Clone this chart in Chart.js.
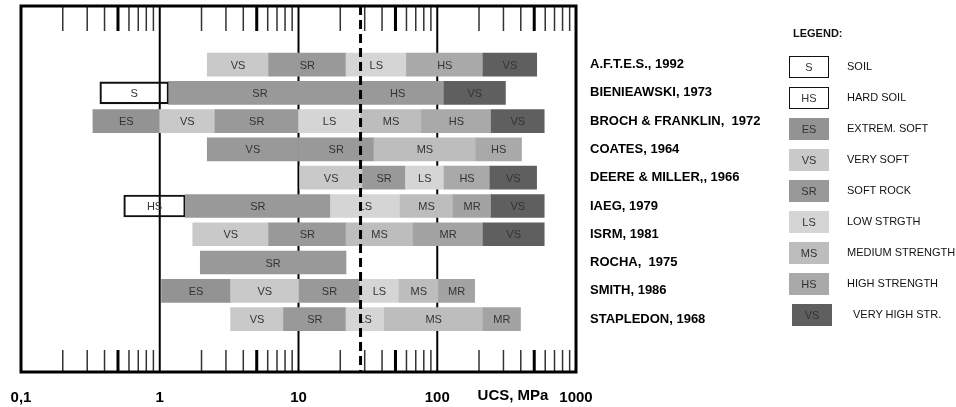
<!DOCTYPE html>
<html>
<head>
<meta charset="utf-8">
<script src="https://cdn.jsdelivr.net/npm/chart.js@4.4.0/dist/chart.umd.min.js"></script>
<style>
  body { margin: 0; background: #fff; }
  #wrap { position: relative; width: 956px; height: 407px; }
  #legend { position: absolute; left: 0; top: 0; font-family: "Liberation Sans", Arial, sans-serif; }
  .lg-title { position: absolute; left: 793px; top: 27px; font-size: 11px; font-weight: bold; color: #111; }
  .lg-box { position: absolute; width: 40px; height: 22px; box-sizing: border-box; font-size: 11px; color: #333;
            display: flex; align-items: center; justify-content: center; }
  .lg-text { position: absolute; font-size: 11px; color: #111; white-space: nowrap; }
</style>
</head>
<body>
<div id="wrap">
  <canvas id="ucsChart" width="956" height="407"></canvas>
  <div id="legend"></div>
</div>
<script>
// classifications (rows, top to bottom)
const sources = ["A.F.T.E.S., 1992", "BIENIEAWSKI, 1973", "BROCH & FRANKLIN,  1972", "COATES, 1964",
  "DEERE & MILLER,, 1966", "IAEG, 1979", "ISRM, 1981", "ROCHA,  1975", "SMITH, 1986", "STAPLEDON, 1968"];

// class limits in MPa for each row
const limits = [
  [2.2, 6.1, 22, 60, 214, 521],
  [0.37, 1.16, 24, 112, 310],
  [0.33, 1.0, 2.5, 10, 28, 77, 245, 590],
  [2.2, 10, 35, 190, 405],
  [10.2, 29, 59, 112, 240, 520],
  [0.55, 1.53, 17, 54, 130, 245, 590],
  [1.73, 6.1, 22, 67, 214, 590],
  [1.96, 22],
  [1.03, 3.24, 10.1, 27.7, 53, 102, 186],
  [3.24, 7.8, 22, 41.5, 214, 398]
];

// text written in each class
const classText = [
  ["VS", "SR", "LS", "HS", "VS"],
  ["S", "SR", "HS", "VS"],
  ["ES", "VS", "SR", "LS", "MS", "HS", "VS"],
  ["VS", "SR", "MS", "HS"],
  ["VS", "SR", "LS", "HS", "VS"],
  ["HS", "SR", "LS", "MS", "MR", "VS"],
  ["VS", "SR", "MS", "MR", "VS"],
  ["SR"],
  ["ES", "VS", "SR", "LS", "MS", "MR"],
  ["VS", "SR", "LS", "MS", "MR"]
];

// shade used by each class
const classShade = [
  ["VS", "SR", "LS", "HS", "VHS"],
  ["S", "SR", "SR", "VHS"],
  ["ES", "VS", "SR", "LS", "MS", "HS", "VHS"],
  ["SR", "SR", "MS", "HS"],
  ["VS", "SR", "LS", "HS", "VHS"],
  ["HSOIL", "SR", "LS", "MS", "MR", "VHS"],
  ["VS", "SR", "MS", "MR", "VHS"],
  ["SR"],
  ["ES", "VS", "SR", "LS", "MS", "MR"],
  ["VS", "SR", "LS", "MS", "MR"]
];

const xTicks = [0.1, 1, 10, 100, 1000];
const xTickText = ["0,1", "1", "10", "100", "1000"];
const decades = [0.1, 1, 10, 100];
const minorSteps = [2, 3, 4, 5, 6, 7, 8, 9];
const mainLines = [1, 10, 100];
const dashValue = 28;

const legendCodes = ["S", "HS", "ES", "VS", "SR", "LS", "MS", "HS", "VS"];
const legendShades = ["S", "HSOIL", "ES", "VS", "SR", "LS", "MS", "HS", "VHS"];
const legendText = ["SOIL", "HARD SOIL", "EXTREM. SOFT", "VERY SOFT", "SOFT ROCK", "LOW  STRGTH",
  "MEDIUM STRENGTH", "HIGH STRENGTH", "VERY HIGH STR."];

const shades = {
  ES: "#939393", VS: "#c9c9c9", SR: "#999999", LS: "#d5d5d5", MS: "#bdbdbd",
  HS: "#a9a9a9", VHS: "#5f5f5f", MR: "#a3a3a3"
};
const FONT = '"Liberation Sans", Arial, sans-serif';

// build bar segments
let filled = [], boxes = [];
limits.forEach((lim, row) => {
  for (let i = 0; i < lim.length - 1; i++) {
    let seg = { x: [lim[i], lim[i + 1]], y: row, text: classText[row][i], shade: classShade[row][i] };
    if (seg.shade == "S" || seg.shade == "HSOIL") boxes.push(seg);
    else filled.push(seg);
  }
});

const ucsPlugin = {
  id: "ucs",
  beforeDatasetsDraw(chart) {
    const { ctx, chartArea: a, scales: { x } } = chart;
    ctx.save();
    decades.forEach((d) => {
      minorSteps.forEach((m) => {
        let px = x.getPixelForValue(d * m);
        ctx.lineWidth = m == 5 ? 3 : 1.5;
        ctx.strokeStyle = m == 5 ? "#000" : "#333";
        ctx.beginPath();
        ctx.moveTo(px, a.top);
        ctx.lineTo(px, a.top + 25);
        ctx.moveTo(px, a.bottom - 22);
        ctx.lineTo(px, a.bottom);
        ctx.stroke();
      });
    });
    ctx.lineWidth = 2;
    ctx.strokeStyle = "#000";
    mainLines.forEach((v) => {
      let px = x.getPixelForValue(v);
      ctx.beginPath();
      ctx.moveTo(px, a.top);
      ctx.lineTo(px, a.bottom);
      ctx.stroke();
    });
    ctx.restore();
  },
  afterDatasetsDraw(chart) {
    const { ctx, chartArea: a, scales: { x } } = chart;
    ctx.save();
    // class names inside the bars
    ctx.font = "11px " + FONT;
    ctx.fillStyle = "#333";
    ctx.textAlign = "center";
    ctx.textBaseline = "middle";
    chart.data.datasets.forEach((ds, di) => {
      chart.getDatasetMeta(di).data.forEach((bar, i) => {
        ctx.fillText(ds.data[i].text, (bar.x + bar.base) / 2, bar.y + 1);
      });
    });
    // dashed line
    let px = x.getPixelForValue(dashValue);
    ctx.strokeStyle = "#000";
    ctx.lineWidth = 3;
    ctx.setLineDash([9, 5]);
    ctx.beginPath();
    ctx.moveTo(px, a.top);
    ctx.lineTo(px, a.bottom);
    ctx.stroke();
    ctx.setLineDash([]);
    // frame
    ctx.strokeRect(a.left, a.top, a.right - a.left, a.bottom - a.top);
    // axis title
    ctx.font = "bold 15px " + FONT;
    ctx.fillStyle = "#000";
    ctx.fillText("UCS, MPa", a.right - 63, a.bottom + 24);
    ctx.restore();
  }
};

new Chart(document.getElementById("ucsChart"), {
  type: "bar",
  data: {
    datasets: [
      {
        data: filled,
        backgroundColor: filled.map((s) => shades[s.shade]),
        borderWidth: 0,
        barThickness: 23,
        grouped: false
      },
      {
        data: boxes,
        backgroundColor: "rgba(255,255,255,0)",
        borderColor: "#111",
        borderWidth: 1.5,
        borderSkipped: false,
        barThickness: 22,
        grouped: false
      }
    ]
  },
  options: {
    indexAxis: "y",
    responsive: false,
    animation: false,
    events: [],
    layout: { padding: { left: 21, top: 6, right: 0, bottom: 0 } },
    plugins: { legend: { display: false }, tooltip: { enabled: false } },
    scales: {
      x: {
        type: "logarithmic",
        min: 0.1,
        max: 1000,
        grid: { display: false },
        border: { display: false },
        afterBuildTicks: (s) => { s.ticks = xTicks.map((v) => ({ value: v })); },
        afterFit: (s) => { s.height = 35; s.paddingLeft = 0; s.paddingRight = 0; },
        ticks: {
          autoSkip: false,
          maxRotation: 0,
          padding: 9,
          color: "#000",
          font: { family: FONT, size: 15, weight: "bold" },
          callback: (v, i) => xTickText[i]
        }
      },
      y: {
        type: "linear",
        position: "right",
        reverse: true,
        offset: false,
        bounds: "data",
        min: -2.07,
        max: 10.87,
        grid: { display: false, drawTicks: false, offset: false },
        border: { display: false },
        afterBuildTicks: (s) => { s.ticks = sources.map((n, i) => ({ value: i })); },
        afterFit: (s) => { s.width = 380; s.paddingTop = 0; s.paddingBottom = 0; },
        ticks: {
          padding: 14,
          color: "#000",
          font: { family: FONT, size: 13, weight: "bold" },
          callback: (v) => sources[v]
        }
      }
    }
  },
  plugins: [ucsPlugin]
});

// legend
function RemplirLegende() {
  let leg = document.getElementById("legend");
  let html = '<div class="lg-title">LEGEND:</div>';
  legendCodes.forEach((code, i) => {
    let top = 56 + i * 31;
    let sh = legendShades[i];
    let left = sh == "VHS" ? 792 : 789;
    let style = sh == "S" || sh == "HSOIL"
      ? "background:#fff;border:1.5px solid #111;"
      : "background:" + shades[sh] + ";";
    html += '<div class="lg-box" style="left:' + left + "px;top:" + top + "px;" + style + '">' + code + "</div>";
    html += '<div class="lg-text" style="left:' + (sh == "VHS" ? 853 : 847) + "px;top:" + (top + 4) + 'px">' + legendText[i] + "</div>";
  });
  leg.innerHTML = html;
}
RemplirLegende();
</script>
</body>
</html>
